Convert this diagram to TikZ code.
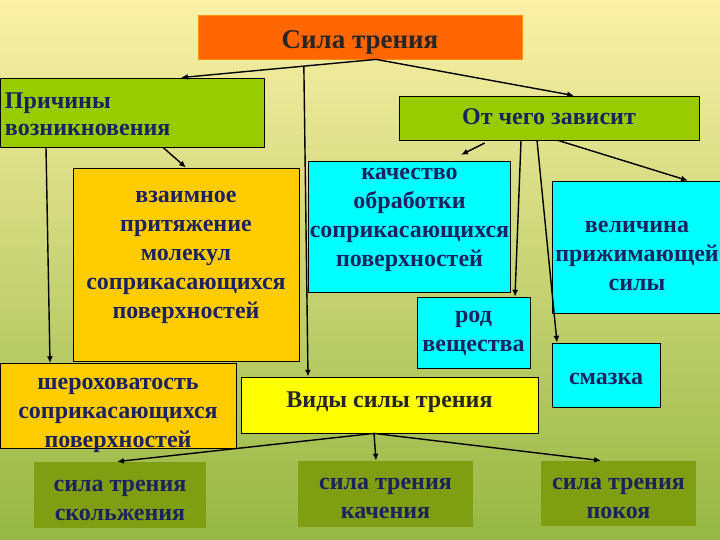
\documentclass[tikz,border=0pt]{standalone}
\usepackage{fontspec}
\setmainfont{Liberation Serif}
\usepackage{tikz}
\usetikzlibrary{arrows.meta,positioning,calc}
\definecolor{PaleYellow}{HTML}{FBF1A7}
\definecolor{Khaki}{HTML}{D8D37C}
\definecolor{Olive}{HTML}{96B743}
\definecolor{Tangerine}{HTML}{FF6600}
\definecolor{Lime}{HTML}{99CC00}
\definecolor{Gold}{HTML}{FFCC00}
\definecolor{Lemon}{HTML}{FFFF00}
\definecolor{Aqua}{HTML}{00FFFF}
\definecolor{Moss}{HTML}{7F9E12}
\definecolor{Ink}{HTML}{1B2260}

\begin{document}
\begin{tikzpicture}[
    x=1pt, y=-1pt,
    font=\bfseries\fontsize{24}{29}\selectfont,
    dims/.style n args={2}{minimum width=#1pt, minimum height=#2pt},
    lineup/.style={text height=#1pt, text depth=0pt},
    box/.style={draw=black, line width=0.8pt, align=center, inner sep=1pt, text=Ink},
    head/.style={box, fill=Tangerine, draw=Tangerine!60!Gold, text=black!85},
    group/.style={box, fill=Lime},
    cause/.style={box, fill=Gold},
    factor/.style={box, fill=Aqua},
    kind/.style={box, draw=none, fill=Moss},
    arr/.style={-{Latex[length=2.4mm, width=2.1mm]}, line width=1.4pt, draw=black}
]
\useasboundingbox (0,0) rectangle (720,540);
\shade[top color=PaleYellow, middle color=Khaki, bottom color=Olive] (0,0) rectangle (720,540);

\node[head, dims={324}{44}, lineup=23, font=\bfseries\fontsize{27}{29}\selectfont] (top) at (360,37) {Сила трения};
\node[group, dims={264}{69}, text height=0pt, text depth=7pt, text width=254pt, align=left, font=\bfseries\fontsize{24}{27}\selectfont] (prich) at (132,112.5) {Причины\\возникновения};
\node[group, dims={300}{44}, lineup=13] (otch) at (549,118) {От чего зависит};

\node[cause, dims={226}{193}, lineup=108] (vzaim) at (186,264.5) {взаимное\\притяжение\\молекул\\соприкасающихся\\поверхностей};
\node[factor, dims={199}{131}, lineup=80] (kach) at (409.5,226.5) {качество\\обработки\\соприкасающихся\\поверхностей};
\node[factor, dims={170}{132}, lineup=86] (vel) at (637,247) {величина\\прижимающей\\силы};
\node[factor, dims={113}{71}, lineup=37] (rod) at (473.5,332.5) {род\\вещества};
\node[factor, dims={108}{64}, lineup=19] (smaz) at (606,375) {смазка};

\node[cause, dims={236}{82}, lineup=83] (sher) at (118,406) {шероховатость\\соприкасающихся\\поверхностей};
\node[box, fill=Lemon, dims={297}{56}, lineup=4, text=black!85] (vidy) at (389.5,405) {Виды силы трения};

\node[kind, dims={172}{66}, lineup=50] (skol) at (120,495) {сила трения\\скольжения};
\node[kind, dims={175}{66}, lineup=49] (kach2) at (385.5,494) {сила трения\\качения};
\node[kind, dims={155}{65}, lineup=50] (pokoy) at (618.5,493.5) {сила трения\\покоя};

\draw[arr] ([xshift=16pt]top.south) -- coordinate[pos=0.37] (fork) ([xshift=49pt]prich.north);
\draw[arr] ([xshift=16pt]top.south) -- ([xshift=25pt]otch.north);
\draw[arr] (fork) -- ([xshift=-81.5pt]vidy.north);
\draw[arr] ([xshift=-86pt]prich.south) -- ([xshift=-68pt]sher.north);
\draw[arr] ([xshift=31pt]prich.south) -- (vzaim.north);
\draw[arr, shorten <=6pt, shorten >=13pt] ([xshift=-59pt]otch.south) -- ([xshift=40pt]kach.north);
\draw[arr] ([xshift=-28pt]otch.south) -- ([xshift=41.5pt]rod.north);
\draw[arr] ([xshift=-12pt]otch.south) -- ([xshift=-49pt]smaz.north);
\draw[arr] ([xshift=9pt]otch.south) -- ([xshift=51pt]vel.north);
\foreach \t/\s in {skol/-3, kach2/-9.5, pokoy/-17.5}{\draw[arr] ([xshift=-15.5pt]vidy.south) -- ([xshift=\s pt]\t.north);}
\end{tikzpicture}
\end{document}
